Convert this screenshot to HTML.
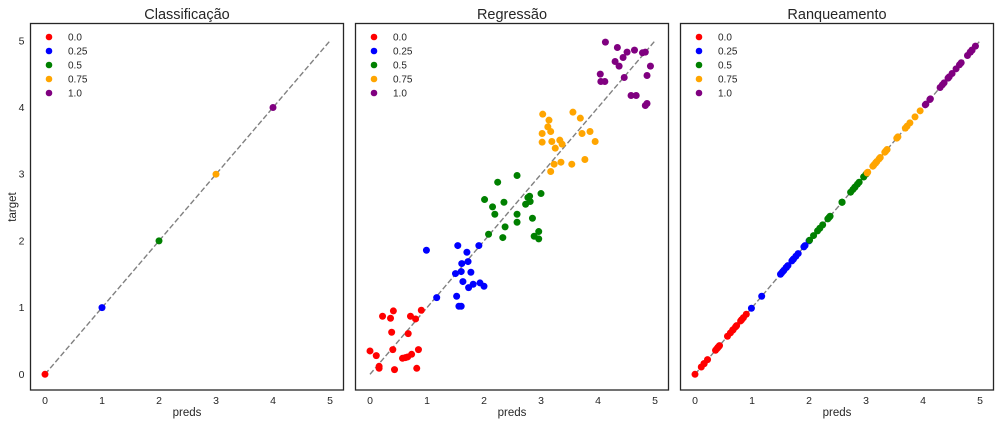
<!DOCTYPE html>
<html><head><meta charset="utf-8">
<style>
html,body{margin:0;padding:0;background:#fff;}
svg{display:block;font-family:"Liberation Sans",sans-serif;}
</style></head>
<body>
<svg id="chart" width="1000" height="424" viewBox="0 0 1000 424"></svg>
<script>
const classLabels = ["0.0","0.25","0.5","0.75","1.0"];
const classColors = ["red","blue","green","orange","purple"];
const tickValues = [0,1,2,3,4,5];
const panelTitles = ["Classificação","Regressão","Ranqueamento"];

// Classification: preds == target at integer values
const clsX = [[0],[1],[2],[3],[4]];
const clsY = [[0],[1],[2],[3],[4]];

// Regression
const regX = [
 [0.0,0.11,0.16,0.16,0.22,0.36,0.41,0.38,0.40,0.43,0.57,0.62,0.66,0.73,0.67,0.71,0.80,0.85,0.82,0.90],
 [0.99,1.17,1.54,1.50,1.52,1.56,1.60,1.60,1.61,1.63,1.70,1.72,1.77,1.73,1.81,1.91,1.93,2.00],
 [2.58,2.24,3.00,2.01,2.35,2.77,2.80,2.81,2.73,2.15,2.19,2.58,2.58,2.37,2.85,2.08,2.33,2.88,2.96,2.96],
 [3.03,3.14,3.12,3.17,3.02,3.02,3.19,3.33,3.37,3.25,3.56,3.69,3.72,3.86,3.95,3.77,3.54,3.35,3.23,3.17],
 [4.13,4.34,4.51,4.64,4.78,4.83,4.44,4.30,4.37,4.92,4.04,4.86,4.46,4.05,4.12,4.58,4.67,4.86,4.83]
];
const regY = [
 [0.35,0.28,0.12,0.09,0.87,0.84,0.95,0.63,0.37,0.07,0.24,0.25,0.26,0.30,0.61,0.87,0.83,0.37,0.09,0.96],
 [1.86,1.15,1.93,1.51,1.17,1.02,1.02,1.54,1.66,1.39,1.83,1.69,1.53,1.30,1.35,1.93,1.37,1.32],
 [2.98,2.88,2.71,2.62,2.58,2.65,2.67,2.59,2.55,2.51,2.40,2.40,2.28,2.21,2.34,2.10,2.05,2.07,2.14,2.03],
 [3.90,3.81,3.71,3.64,3.61,3.48,3.49,3.51,3.45,3.39,3.93,3.84,3.61,3.64,3.49,3.22,3.15,3.18,3.15,3.04],
 [4.98,4.90,4.83,4.86,4.82,4.83,4.75,4.69,4.62,4.62,4.50,4.48,4.45,4.39,4.39,4.18,4.18,4.06,4.03]
];
// Ranking: preds are exact
const rankX = regX;
const rankY = regX;

const panels = [
 {left:30.5, xs:clsX, ys:clsY, name:"classification"},
 {left:355.5, xs:regX, ys:regY, name:"regression"},
 {left:680.5, xs:rankX, ys:rankY, name:"ranking"}
];
const W = 313, TOP = 23.5, BOT = 390;
const svg = document.getElementById('chart');
const NS = "http://www.w3.org/2000/svg";
function mk(tag, attrs, parent){const e=document.createElementNS(NS,tag);for(const k in attrs)e.setAttribute(k,attrs[k]);(parent||svg).appendChild(e);return e;}

panels.forEach((p,pi)=>{
  const g = mk('g',{});
  
  
  const x0 = p.left + 14.5, xu = 57;
  const sx = v => x0 + v*xu;
  const sy = v => 374.3 - v*66.7;
  const fr = mk('rect',{x:p.left,y:TOP,width:W,height:BOT-TOP,fill:'none',stroke:'#262626','stroke-width':1.3},g);
  
  
  const t = mk('text',{x:p.left+W/2,y:19,'text-anchor':'middle','font-size':14.5,fill:'#262626'},g);
  t.textContent = panelTitles[pi];
  
  
  tickValues.forEach(v=>{
    const tx = mk('text',{x:sx(v),y:404,'text-anchor':'middle','font-size':10.5,fill:'#262626'},g);
    tx.textContent = v;
    
    
  });
  const xl = mk('text',{x:p.left+W/2,y:416,'text-anchor':'middle','font-size':11.5,fill:'#262626'},g);
  xl.textContent = 'preds';
  
  
  if(pi===0){
    tickValues.forEach(v=>{
      const ty = mk('text',{x:p.left-6,y:sy(v)+3.5,'text-anchor':'end','font-size':10.5,fill:'#262626'},g);
      ty.textContent = v;
      
      
    });
    const yl = mk('text',{x:0,y:0,'text-anchor':'middle','font-size':11.5,fill:'#262626',transform:'translate(16,207) rotate(-90)'},g);
    yl.textContent = 'target';
    
    
  }
  const ln = mk('line',{x1:sx(0),y1:sy(0),x2:sx(5),y2:sy(5),stroke:'#808080','stroke-width':1.4,'stroke-dasharray':'5.5,2.5'},g);
  
  
  p.xs.forEach((arr,ci)=>{
    arr.forEach((xv,i)=>{
      const c = mk('circle',{cx:sx(xv),cy:sy(p.ys[ci][i]),r:3.5,fill:classColors[ci]},g);
      
      
    });
  });
  classLabels.forEach((lab,ci)=>{
    const ly = 37 + ci*14;
    const lc = mk('circle',{cx:p.left+18.5,cy:ly,r:3.3,fill:classColors[ci]},g);
    
    
    const lt = mk('text',{x:p.left+37.5,y:ly+3.5,'font-size':10,fill:'#262626'},g);
    lt.textContent = lab;
    
    
  });
});
</script>
</body></html>
